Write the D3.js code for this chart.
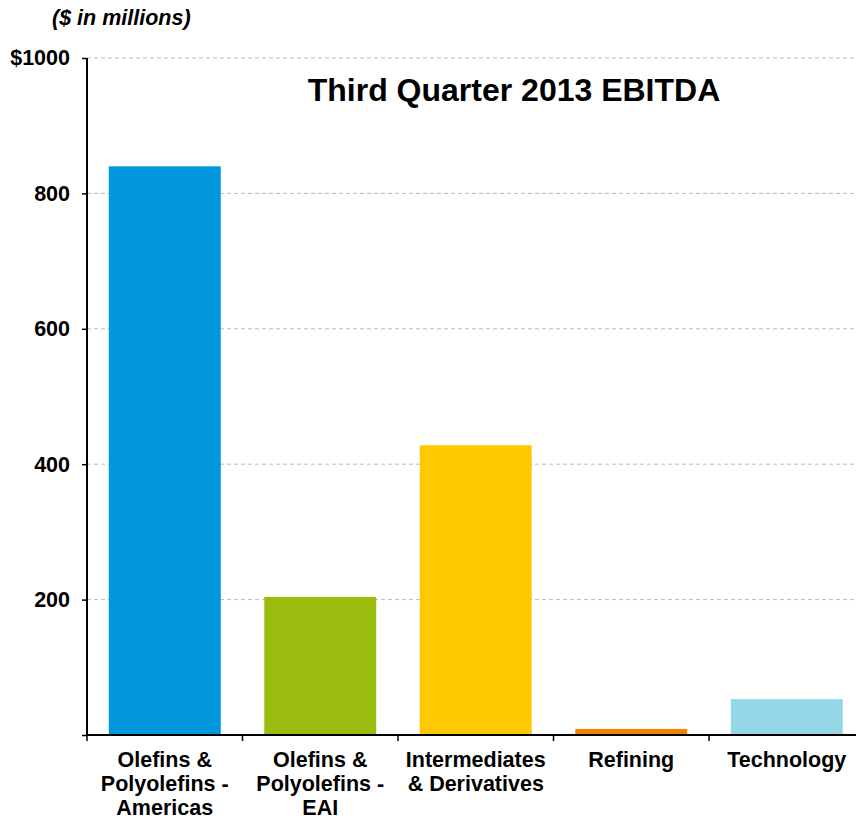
<!DOCTYPE html>
<html>
<head>
<meta charset="utf-8">
<script src="https://cdn.jsdelivr.net/npm/d3@7"></script>
<style>
body { margin: 0; background: #fff; }
text { font-family: "Liberation Sans", Arial, sans-serif; font-weight: bold; }
</style>
</head>
<body>
<svg id="chart" width="856" height="819"></svg>
<script>
// data
var categories = [
  ["Olefins &", "Polyolefins -", "Americas"],
  ["Olefins &", "Polyolefins -", "EAI"],
  ["Intermediates", "& Derivatives"],
  ["Refining"],
  ["Technology"]
];
var values = [840, 204, 428, 9, 53];
var barColors = ["#0097dc", "#9bbd0f", "#ffc800", "#f08300", "#94d8e8"];
var yTicks = [200, 400, 600, 800, 1000];

var width = 856, height = 819;
var margin = {top: 58, left: 87, bottom: 84};
var plotRight = 864.5;

var svg = d3.select("#chart");

var x = d3.scaleBand()
  .domain(d3.range(categories.length))
  .range([margin.left, plotRight])
  .paddingInner(0.28)
  .paddingOuter(0.14);

var y = d3.scaleLinear()
  .domain([0, 1000])
  .range([height - margin.bottom, margin.top]);

// gridlines
svg.append("g")
  .selectAll("line")
  .data(yTicks)
  .join("line")
  .attr("x1", margin.left)
  .attr("x2", width)
  .attr("y1", d => y(d))
  .attr("y2", d => y(d))
  .attr("stroke", "#bbb")
  .attr("stroke-width", 1)
  .attr("stroke-dasharray", "4,3");

// bars
svg.append("g")
  .selectAll("rect")
  .data(values)
  .join("rect")
  .attr("x", (d, i) => x(i))
  .attr("y", d => y(d))
  .attr("width", x.bandwidth())
  .attr("height", d => y(0) - y(d))
  .attr("fill", (d, i) => barColors[i]);

// y axis
var yAxis = svg.append("g")
  .attr("transform", `translate(${margin.left},0)`)
  .call(d3.axisLeft(y)
    .tickValues([0].concat(yTicks))
    .tickSize(5)
    .tickPadding(12)
    .tickFormat(d => d == 0 ? "" : (d == 1000 ? "$" + d : d)));
yAxis.select(".domain").attr("stroke-width", 2).attr("d", `M0,${y(0)}V${y(1000)}`);
yAxis.selectAll(".tick line").attr("stroke-width", 1.5);
yAxis.selectAll(".tick text").attr("font-size", 21.5).attr("fill", "#000");

// x axis
var step = x.step();
var xg = svg.append("g");
xg.append("line")
  .attr("x1", margin.left)
  .attr("x2", width)
  .attr("y1", y(0))
  .attr("y2", y(0))
  .attr("stroke", "#000")
  .attr("stroke-width", 2);
xg.selectAll(".xtick")
  .data(d3.range(categories.length))
  .join("line")
  .attr("x1", i => x(i) - step * x.paddingInner() / 2 - (i == 0 ? step * (x.paddingOuter() - x.paddingInner() / 2) : 0))
  .attr("x2", i => x(i) - step * x.paddingInner() / 2 - (i == 0 ? step * (x.paddingOuter() - x.paddingInner() / 2) : 0))
  .attr("y1", y(0))
  .attr("y2", y(0) + 6)
  .attr("stroke", "#000")
  .attr("stroke-width", 1.5);

xg.selectAll(".xlab")
  .data(categories)
  .join("text")
  .attr("text-anchor", "middle")
  .attr("font-size", 21.5)
  .attr("fill", "#000")
  .each(function(lines, i) {
    d3.select(this).selectAll("tspan")
      .data(lines)
      .join("tspan")
      .attr("x", x(i) + x.bandwidth() / 2)
      .attr("y", (l, k) => 767 + k * 24)
      .text(l => l);
  });

// title
svg.append("text")
  .attr("x", 514)
  .attr("y", 101)
  .attr("text-anchor", "middle")
  .attr("font-size", 32)
  .attr("fill", "#000")
  .text("Third Quarter 2013 EBITDA");

// units label
svg.append("text")
  .attr("x", 52)
  .attr("y", 25)
  .attr("font-size", 21.5)
  .attr("font-style", "italic")
  .attr("fill", "#000")
  .text("($ in millions)");
</script>
</body>
</html>
